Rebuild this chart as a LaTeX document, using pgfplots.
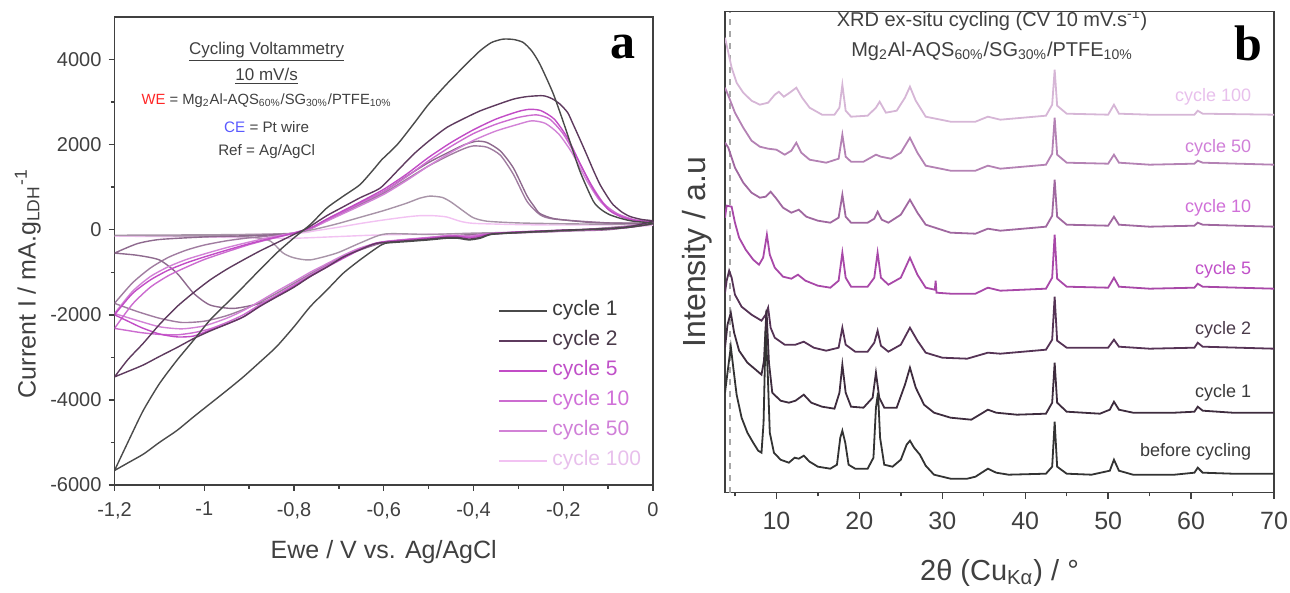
\documentclass[border=0pt]{standalone}
\usepackage{fontspec}
\setmainfont{Liberation Sans}
\newfontfamily\serifbold{Liberation Serif}
\usepackage{pgfplots}
\pgfplotsset{compat=1.18}

\definecolor{cvA}{HTML}{4A4A4A}
\definecolor{cvB}{HTML}{5E3A5E}
\definecolor{cvC}{HTML}{C24CC6}
\definecolor{cvD}{HTML}{CC6CD0}
\definecolor{cvE}{HTML}{D282D6}
\definecolor{cvF}{HTML}{F2C2F2}
\definecolor{cvG}{HTML}{8E6A8E}
\definecolor{cvH}{HTML}{A07CA0}
\definecolor{cvI}{HTML}{A894A8}
\definecolor{xr0}{HTML}{333333}
\definecolor{xr1}{HTML}{3E2C3E}
\definecolor{xr2}{HTML}{553355}
\definecolor{xr5}{HTML}{A848A8}
\definecolor{xr10}{HTML}{A068A0}
\definecolor{xr50}{HTML}{B482B4}
\definecolor{xr100}{HTML}{D6B6D6}
\definecolor{lb0}{HTML}{3A3A3A}
\definecolor{lb2}{HTML}{4A3A4A}
\definecolor{lb5}{HTML}{C050C8}
\definecolor{lb10}{HTML}{D070D8}
\definecolor{lb50}{HTML}{D080D8}
\definecolor{lb100}{HTML}{E8C0EC}
\definecolor{axc}{HTML}{404040}

\pgfplotsset{
  myaxis/.style={
    scale only axis,
    anchor=south west,
    tick align=outside,
    xtick pos=bottom, ytick pos=left,
    major tick length=3pt, minor tick length=1.8pt,
    axis line style={draw=axc, line width=0.8pt},
    tick style={axc, line width=0.7pt},
    /pgf/number format/assume math mode=true,
    /pgf/number format/use comma,
    /pgf/number format/1000 sep={},
  }
}

\begin{document}
\begin{tikzpicture}
\useasboundingbox (0,0) rectangle (645pt,296.5pt);

% ---------------- Panel a ----------------
\begin{axis}[myaxis,
  at={(57.25pt,54pt)}, width=269.25pt, height=234pt,
  xmin=-1.2, xmax=0, ymin=-6000, ymax=5000,
  xtick={-1.2,-1,-0.8,-0.6,-0.4,-0.2,0},
  minor xtick={-1.1,-0.9,-0.7,-0.5,-0.3,-0.1},
  ytick={-6000,-4000,-2000,0,2000,4000},
  minor ytick={-5000,-3000,-1000,1000,3000},
  ticklabel style={font=\fontsize{10}{10}\selectfont, text=axc},
  xticklabel style={yshift=-2pt},
  xlabel={Ewe / V vs. Ag/AgCl},
  ylabel={Current I / mA.g\textsubscript{LDH}\textsuperscript{-1}},
  label style={font=\fontsize{12.5}{12.5}\selectfont, text=axc},
  xlabel style={at={(axis description cs:0.5,-0.143)}, anchor=center},
  ylabel style={at={(axis description cs:-0.161,0.43)}, anchor=center},
  legend style={at={(axis description cs:0.70,0.405)}, anchor=north west,
    draw=none, fill=none, font=\fontsize{10.5}{10.5}\selectfont,
    nodes={inner sep=1pt, text height=7pt, text depth=2pt},
    row sep=4pt, column sep=1pt},
  legend cell align=left,
  legend image code/.code={\draw[#1, line width=1.2pt] (0pt,0pt) -- (24pt,0pt);},
  reverse legend,
  every axis plot/.append style={line width=0.7pt},
]
% cycle 100 (lightest)
\addplot[cvF, smooth, tension=0.4] coordinates {
(-1.2,-150) (-1.0,-130) (-0.8,-90) (-0.75,-20) (-0.7,60) (-0.65,150) (-0.6,230) (-0.55,300) (-0.52,330) (-0.49,330) (-0.46,300) (-0.43,200) (-0.4,150) (-0.3,120) (-0.2,110) (0,110)
(-0.2,-40) (-0.4,-90) (-0.6,-120) (-0.7,-160) (-0.8,-200) (-0.9,-190) (-1.0,-170) (-1.1,-160) (-1.2,-150)};
\addlegendentry{\textcolor{lb100}{cycle 100}}
% extra loops
\addplot[cvI, smooth, tension=0.4, forget plot] coordinates {
(-1.2,-130) (-1.0,-120) (-0.9,-110) (-0.85,-100) (-0.8,-80) (-0.75,20) (-0.7,150) (-0.65,300) (-0.6,450) (-0.55,620) (-0.52,740) (-0.497,790) (-0.47,760) (-0.45,650) (-0.42,420) (-0.4,280) (-0.37,200) (-0.3,160) (-0.2,140) (-0.1,130) (0,130)
(-0.2,-30) (-0.4,-80) (-0.5,-110) (-0.597,-100) (-0.65,-300) (-0.705,-550) (-0.764,-710) (-0.80,-660) (-0.824,-550) (-0.854,-260) (-0.9,-170) (-1.0,-150) (-1.1,-140) (-1.2,-130)};
\addplot[cvH, smooth, tension=0.4, forget plot] coordinates {
(-1.2,-1730) (-1.16,-1250) (-1.12,-900) (-1.08,-650) (-1.04,-480) (-1.0,-360) (-0.95,-260) (-0.9,-190) (-0.85,-140) (-0.8,-90) (-0.76,40) (-0.727,220) (-0.69,400) (-0.653,590) (-0.6,860) (-0.55,1180) (-0.5,1500) (-0.45,1770) (-0.42,1910) (-0.40,1970) (-0.37,1940) (-0.34,1750) (-0.311,1300) (-0.281,670) (-0.252,354) (-0.22,250) (-0.1,160) (0,140)
(-0.2,-30) (-0.4,-110) (-0.5,-190) (-0.6,-290) (-0.653,-440) (-0.69,-620) (-0.727,-820) (-0.764,-1040) (-0.8,-1260) (-0.85,-1560) (-0.9,-1820) (-0.95,-2020) (-1.0,-2150) (-1.05,-2180) (-1.1,-2080) (-1.15,-1920) (-1.2,-1730)};
\addplot[cvG, smooth, tension=0.4, forget plot] coordinates {
(-1.2,-550) (-1.15,-330) (-1.1,-230) (-1.0,-170) (-0.9,-140) (-0.85,-120) (-0.8,-80) (-0.76,40) (-0.727,230) (-0.69,420) (-0.653,620) (-0.6,900) (-0.55,1250) (-0.5,1580) (-0.45,1850) (-0.42,2000) (-0.393,2080) (-0.37,2050) (-0.34,1850) (-0.311,1450) (-0.281,800) (-0.265,550) (-0.252,380) (-0.22,260) (-0.15,180) (-0.1,160) (-0.05,150) (0,140)
(-0.1,0) (-0.2,-30) (-0.3,-70) (-0.4,-120) (-0.5,-200) (-0.6,-300) (-0.69,-630) (-0.764,-1100) (-0.824,-1490) (-0.876,-1730) (-0.935,-1850) (-0.987,-1770) (-1.024,-1490) (-1.061,-1020) (-1.1,-710) (-1.15,-600) (-1.2,-550)};
% cycle 50
\addplot[cvE, smooth, tension=0.4] coordinates {
(-1.2,-1970) (-1.16,-1450) (-1.12,-1100) (-1.08,-870) (-1.04,-700) (-1.0,-570) (-0.95,-420) (-0.9,-290) (-0.85,-170) (-0.8,-70) (-0.76,40) (-0.727,200) (-0.69,380) (-0.653,560) (-0.6,830) (-0.55,1150) (-0.5,1500) (-0.45,1820) (-0.4,2100) (-0.35,2320) (-0.3,2480) (-0.27,2560) (-0.24,2500) (-0.21,2250) (-0.18,1800) (-0.15,1200) (-0.12,700) (-0.09,400) (-0.05,240) (0,170)
(-0.1,15) (-0.2,-20) (-0.3,-60) (-0.38,-110) (-0.41,-150) (-0.45,-130) (-0.5,-180) (-0.6,-280) (-0.653,-430) (-0.69,-600) (-0.727,-800) (-0.764,-1000) (-0.8,-1220) (-0.839,-1450) (-0.876,-1680) (-0.913,-1900) (-0.95,-2080) (-1.0,-2260) (-1.05,-2330) (-1.1,-2280) (-1.15,-2130) (-1.2,-1970)};
\addlegendentry{\textcolor{lb50}{cycle 50}}
% cycle 10
\addplot[cvD, smooth, tension=0.4] coordinates {
(-1.2,-2320) (-1.16,-1750) (-1.12,-1350) (-1.08,-1080) (-1.04,-880) (-1.0,-700) (-0.95,-520) (-0.9,-350) (-0.85,-210) (-0.8,-80) (-0.76,50) (-0.727,230) (-0.69,420) (-0.653,620) (-0.6,900) (-0.55,1240) (-0.5,1620) (-0.45,1960) (-0.4,2260) (-0.35,2480) (-0.3,2640) (-0.26,2700) (-0.23,2600) (-0.2,2250) (-0.17,1700) (-0.14,1100) (-0.11,620) (-0.08,380) (-0.04,230) (0,170)
(-0.1,20) (-0.2,-15) (-0.3,-60) (-0.38,-120) (-0.41,-170) (-0.45,-140) (-0.5,-190) (-0.6,-290) (-0.653,-450) (-0.69,-640) (-0.727,-850) (-0.764,-1070) (-0.8,-1300) (-0.839,-1540) (-0.876,-1760) (-0.913,-2000) (-0.95,-2180) (-0.987,-2330) (-1.024,-2420) (-1.06,-2470) (-1.1,-2460) (-1.14,-2420) (-1.17,-2370) (-1.2,-2320)};
\addlegendentry{\textcolor{lb10}{cycle 10}}
% cycle 5
\addplot[cvC, smooth, tension=0.4] coordinates {
(-1.2,-2000) (-1.16,-1500) (-1.12,-1180) (-1.08,-950) (-1.04,-780) (-1.0,-640) (-0.95,-480) (-0.9,-330) (-0.85,-200) (-0.8,-80) (-0.76,60) (-0.727,250) (-0.69,450) (-0.653,650) (-0.6,950) (-0.55,1300) (-0.5,1700) (-0.45,2050) (-0.4,2350) (-0.35,2600) (-0.3,2780) (-0.275,2830) (-0.25,2800) (-0.22,2600) (-0.19,2150) (-0.16,1500) (-0.13,900) (-0.1,480) (-0.07,300) (-0.04,220) (0,170)
(-0.05,60) (-0.1,20) (-0.2,-10) (-0.3,-50) (-0.36,-90) (-0.39,-160) (-0.41,-190) (-0.44,-150) (-0.5,-200) (-0.55,-240) (-0.616,-310) (-0.653,-470) (-0.69,-670) (-0.727,-880) (-0.764,-1100) (-0.80,-1330) (-0.839,-1570) (-0.876,-1800) (-0.913,-2050) (-0.95,-2220) (-0.987,-2360) (-1.024,-2500) (-1.06,-2520) (-1.1,-2450) (-1.14,-2300) (-1.17,-2150) (-1.2,-2000)};
\addlegendentry{\textcolor{lb5}{cycle 5}}
% cycle 2
\addplot[cvB, smooth, tension=0.4] coordinates {
(-1.2,-3460) (-1.17,-3050) (-1.136,-2670) (-1.1,-2230) (-1.061,-1810) (-1.024,-1480) (-0.987,-1180) (-0.95,-930) (-0.913,-710) (-0.876,-500) (-0.839,-310) (-0.80,-110) (-0.77,40) (-0.727,330) (-0.69,540) (-0.653,750) (-0.608,980) (-0.57,1380) (-0.534,1770) (-0.5,2080) (-0.46,2400) (-0.42,2620) (-0.386,2790) (-0.35,2930) (-0.311,3070) (-0.28,3130) (-0.245,3150) (-0.225,3080) (-0.207,2950) (-0.19,2750) (-0.178,2480) (-0.163,2130) (-0.148,1770) (-0.133,1400) (-0.118,1060) (-0.1,750) (-0.089,590) (-0.07,420) (-0.051,310) (-0.025,240) (0,200)
(-0.05,80) (-0.1,30) (-0.2,-10) (-0.3,-60) (-0.36,-100) (-0.385,-180) (-0.41,-220) (-0.435,-180) (-0.46,-180) (-0.5,-220) (-0.55,-260) (-0.616,-320) (-0.653,-470) (-0.69,-640) (-0.727,-880) (-0.764,-1100) (-0.80,-1350) (-0.839,-1580) (-0.876,-1800) (-0.913,-2050) (-0.95,-2220) (-0.987,-2380) (-1.024,-2560) (-1.061,-2770) (-1.1,-2980) (-1.136,-3180) (-1.17,-3330) (-1.2,-3460)};
\addlegendentry{\textcolor{lb2}{cycle 2}}
% cycle 1
\addplot[cvA, smooth, tension=0.4] coordinates {
(-1.2,-5660) (-1.165,-4880) (-1.136,-4250) (-1.1,-3620) (-1.061,-3070) (-1.024,-2600) (-0.987,-2120) (-0.95,-1730) (-0.913,-1340) (-0.876,-940) (-0.839,-550) (-0.80,-190) (-0.764,120) (-0.727,510) (-0.69,790) (-0.653,1060) (-0.62,1450) (-0.605,1640) (-0.57,2000) (-0.534,2480) (-0.50,2950) (-0.46,3420) (-0.42,3850) (-0.386,4200) (-0.36,4400) (-0.334,4480) (-0.31,4470) (-0.289,4400) (-0.27,4200) (-0.252,3890) (-0.222,3190) (-0.193,2320) (-0.163,1380) (-0.133,670) (-0.115,470) (-0.096,350) (-0.07,260) (-0.044,200) (0,150)
(-0.05,60) (-0.1,20) (-0.2,-20) (-0.3,-70) (-0.36,-110) (-0.385,-200) (-0.41,-240) (-0.435,-200) (-0.46,-200) (-0.5,-240) (-0.55,-280) (-0.597,-320) (-0.616,-430) (-0.653,-710) (-0.69,-1020) (-0.727,-1420) (-0.764,-1810) (-0.80,-2280) (-0.839,-2750) (-0.876,-3110) (-0.913,-3460) (-0.95,-3780) (-0.987,-4090) (-1.024,-4400) (-1.061,-4720) (-1.1,-5000) (-1.135,-5270) (-1.17,-5480) (-1.2,-5660)};
\addlegendentry{\textcolor{lb0}{cycle 1}}

\node[font=\fontsize{8.5}{8.5}\selectfont, text=axc] at (axis cs:-0.861,4177) {\underline{Cycling Voltammetry}};
\node[font=\fontsize{8.5}{8.5}\selectfont, text=axc] at (axis cs:-0.861,3611) {\underline{10 mV/s}};
\node[font=\fontsize{7.4}{7.4}\selectfont, text=axc] at (axis cs:-0.861,3044) {\textcolor{red!85}{WE} = Mg\textsubscript{2}Al-AQS\textsubscript{60\%}/SG\textsubscript{30\%}/PTFE\textsubscript{10\%}};
\node[font=\fontsize{7.6}{7.6}\selectfont, text=axc] at (axis cs:-0.861,2407) {\textcolor{blue!65}{CE} = Pt wire};
\node[font=\fontsize{7.6}{7.6}\selectfont, text=axc] at (axis cs:-0.861,1841) {Ref = Ag/AgCl};
\node[font=\serifbold\bfseries\fontsize{25}{25}\selectfont] at (axis cs:-0.066,4288) {a};
\end{axis}

% ---------------- Panel b ----------------
\begin{axis}[myaxis,
  at={(362.5pt,50.15pt)}, width=274.5pt, height=240.5pt,
  xmin=3.8, xmax=70, ymin=0, ymax=481,
  xtick={10,20,...,70}, minor xtick={5,15,...,65},
  ytick=\empty,
  ticklabel style={font=\fontsize{12.5}{12.5}\selectfont, text=axc},
  xticklabel style={yshift=-3pt},
  xlabel={2θ (Cu\textsubscript{Kα}) / °},
  ylabel={Intensity / a.u},
  xlabel style={font=\fontsize{14.5}{14.5}\selectfont, text=axc, at={(axis description cs:0.5,-0.167)}, anchor=center},
  ylabel style={font=\fontsize{16}{16}\selectfont, text=axc, at={(axis description cs:-0.051,0.5)}, anchor=center},
  every axis plot/.append style={line width=0.9pt},
]
\addplot[gray!70, dashed, line width=0.6pt] coordinates {(4.4,0) (4.4,481)};
% cycle 100
\addplot[xr100] coordinates {
(3.8,455) (4.2,440) (4.6,425) (5.2,410) (6,400) (7,392) (8,388) (9,390) (9.8,398) (10.3,401) (10.9,396) (11.6,400) (12.4,405) (13.1,395) (14,385) (15.5,378) (17,378) (17.6,385) (17.95,408) (18.35,382) (19,376) (21,377) (22.0,385) (22.45,391) (23.2,380) (24.5,382) (25.5,395) (26.1,406) (26.8,392) (28,376) (31,371) (34,371) (35.5,376) (37,373) (42.5,377) (43.25,388) (43.55,423) (43.85,387) (45,379) (50,378) (50.7,388) (51.3,379) (55,378) (60.4,378) (60.8,382) (61.4,379) (70,378)};
% cycle 50
\addplot[xr50] coordinates {
(3.8,405) (4.3,395) (5,380) (6,365) (7,352) (8,346) (9,344) (10,343) (11,338) (11.8,342) (12.4,350) (13,340) (14,333) (16,330) (17.5,334) (17.95,358) (18.35,336) (19,331) (20.5,331) (22.0,338) (22.6,336) (23.8,334) (25,340) (26.1,355) (27,340) (28,327) (31,322) (34,322) (35.5,327) (37,324) (42.5,328) (43.25,339) (43.55,375) (43.85,338) (45,330) (50,329) (50.7,338) (51.3,330) (55,328) (60.4,329) (60.8,332) (61.4,330) (70,328)};
% cycle 10
\addplot[xr10] coordinates {
(3.8,350) (4.2,345) (5,325) (6,310) (7,300) (8,295) (8.7,296) (9.3,301) (9.9,295) (10.8,285) (11.8,280) (12.7,283) (13.6,276) (15,272) (16.5,270) (17.5,275) (17.95,298) (18.35,276) (19,270) (21,270) (21.8,274) (22.2,281) (22.7,273) (23.5,270) (25,278) (26.1,293) (27,280) (28,268) (31,260) (34,259) (35.5,264) (37,262) (42.5,266) (43.25,277) (43.55,313) (43.85,276) (45,268) (50,267) (50.7,276) (51.3,268) (55,266) (60.4,267) (60.8,270) (61.4,268) (70,266)};
% cycle 5
\addplot[xr5] coordinates {
(3.8,275) (4.0,287) (4.6,286) (5.0,270) (5.5,255) (6.3,243) (7.2,233) (7.9,228) (8.4,235) (8.85,258) (9.2,238) (9.8,225) (10.8,216) (11.8,214) (12.6,218) (13.5,212) (15,207) (16.5,205) (17.5,212) (17.95,240) (18.35,215) (19,206) (21,206) (21.8,215) (22.2,240) (22.6,215) (23.5,208) (25,215) (26.1,235) (27,218) (28,205) (29.1,203) (29.2,212) (29.3,200) (31,199) (34,199) (35.5,205) (37,202) (42.5,204) (43.25,215) (43.55,258) (43.85,214) (45,206) (50,205) (50.7,215) (51.3,206) (55,204) (60.4,205) (60.8,209) (61.4,206) (70,204)};
% cycle 2
\addplot[xr2] coordinates {
(3.8,200) (4.0,212) (4.3,222) (4.6,215) (5.0,198) (5.8,186) (7,178) (8.2,172) (8.7,178) (9.0,185) (9.3,165) (9.8,155) (11,148) (12.3,148) (13.3,151) (14.5,145) (16,142) (17.5,145) (17.95,165) (18.35,148) (19.5,141) (21,141) (21.8,150) (22.2,162) (22.6,147) (23.5,141) (25,148) (26.1,165) (27,152) (28,140) (30,135) (33,134) (35.5,140) (37,139) (42.5,143) (43.25,153) (43.55,196) (43.85,152) (45,145) (50,145) (50.7,153) (51.3,146) (55,144) (60.4,145) (60.8,150) (61.4,146) (70,144)};
% cycle 1
\addplot[xr1] coordinates {
(3.8,145) (4.1,168) (4.5,180) (4.9,160) (5.5,142) (6.5,130) (7.5,123) (8.2,118) (8.5,132) (8.8,183) (9.1,130) (9.5,100) (10.5,92) (11.5,90) (12.3,92) (13.3,98) (14.2,90) (15.5,86) (17,84) (17.6,100) (17.95,128) (18.35,100) (19,86) (20.5,85) (21.6,95) (22.0,120) (22.4,95) (23,85) (24.5,85) (25.5,108) (26.1,125) (26.8,105) (27.8,88) (29,80) (31,75) (33.5,73) (35.5,83) (36.5,80) (39,78) (42.5,79) (43.25,90) (43.55,130) (43.85,90) (45,81) (49,79) (50.2,83) (50.7,91) (51.3,83) (53,80) (58,80) (60.4,81) (60.8,86) (61.4,82) (65,80) (70,80)};
% before cycling
\addplot[xr0] coordinates {
(3.8,100) (4.1,120) (4.5,146) (4.8,125) (5.2,98) (5.8,75) (6.5,60) (7.2,50) (7.8,42) (8.2,40) (8.45,70) (8.7,162) (8.95,120) (9.2,60) (9.7,40) (10.5,33) (11.5,30) (12.2,35) (12.7,34) (13.3,37) (14,31) (15,26) (16.5,24) (17.3,28) (17.7,55) (17.95,62) (18.3,50) (18.7,28) (19.5,24) (21,24) (21.7,35) (22.0,85) (22.25,100) (22.5,55) (23,28) (24,26) (25,33) (25.7,48) (26.1,52) (26.6,45) (27.3,38) (28,27) (29,18) (31,14) (33,14) (34,16) (35.5,24) (36.5,20) (38,18) (42.5,19) (43.25,26) (43.55,71) (43.85,26) (45,19) (48,18) (50.2,22) (50.7,33) (51.3,22) (53,18) (58,18) (60.4,20) (60.8,25) (61.4,20) (65,19) (70,19)};

\node[align=center, font=\fontsize{10}{15}\selectfont, text=axc] at (axis cs:36,458) {XRD ex-situ cycling (CV 10 mV.s\textsuperscript{-1})\\Mg\textsubscript{2}Al-AQS\textsubscript{60\%}/SG\textsubscript{30\%}/PTFE\textsubscript{10\%}};
\node[font=\serifbold\bfseries\fontsize{25}{25}\selectfont] at (axis cs:66.86,449.7) {b};
\begin{scope}[every node/.style={anchor=east, font=\fontsize{9}{9}\selectfont}]
\node[text=lb100] at (axis cs:68.1,396.3) {cycle 100};
\node[text=lb50] at (axis cs:68.1,344.7) {cycle 50};
\node[text=lb10] at (axis cs:68.1,284.7) {cycle 10};
\node[text=lb5] at (axis cs:68.1,223) {cycle 5};
\node[text=lb2] at (axis cs:68.1,163) {cycle 2};
\node[text=lb0] at (axis cs:68.1,99.7) {cycle 1};
\node[text=lb0] at (axis cs:68.1,41.3) {before cycling};
\end{scope}
\end{axis}
\end{tikzpicture}
\end{document}
